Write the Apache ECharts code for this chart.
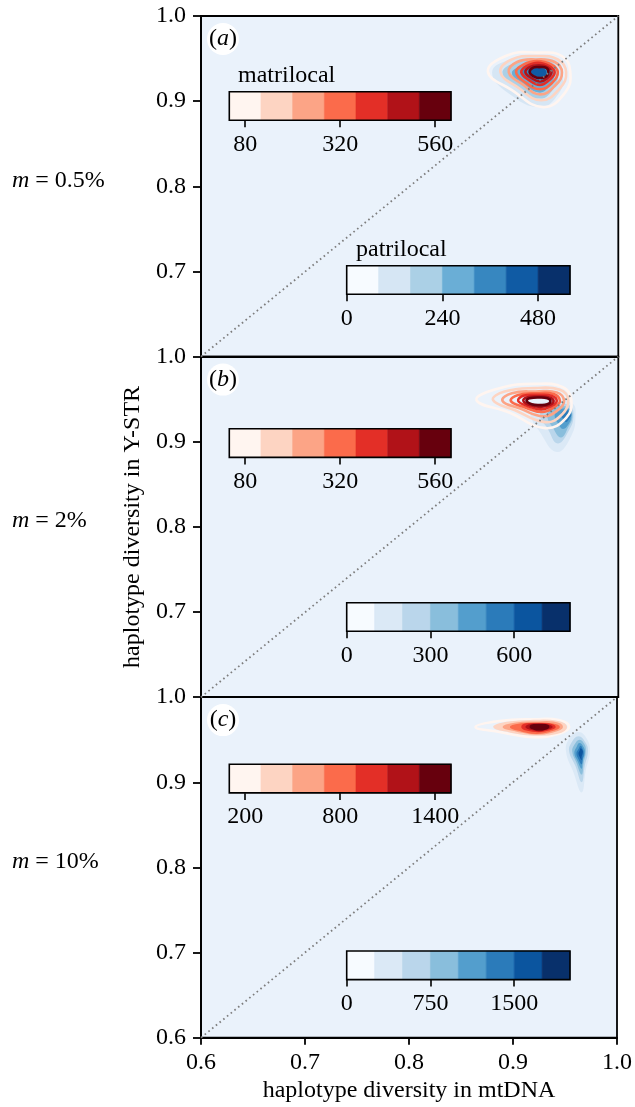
<!DOCTYPE html>
<html><head><meta charset="utf-8">
<script src="https://cdn.jsdelivr.net/npm/echarts@6/dist/echarts.min.js"></script>
<style>html,body{margin:0;padding:0;background:#fff}#c{width:635px;height:1107px}</style>
</head><body><div id="c"></div>
<script>
// ---------- data ----------
const panelLabels = ['a', 'b', 'c'];
const migrationLabels = ['0.5%', '2%', '10%'];
const xTitle = 'haplotype diversity in mtDNA';
const yTitle = 'haplotype diversity in Y-STR';
const diagonal = [[0.6, 0.6], [1.0, 1.0]];

// colorbar levels (matrilocal = contour lines, patrilocal = filled bands)
const redLevelsA = [80, 160, 240, 320, 400, 480, 560];
const redTicksA = [80, 320, 560];
const redLevelsB = [80, 160, 240, 320, 400, 480, 560];
const redTicksB = [80, 320, 560];
const redLevelsC = [200, 400, 600, 800, 1000, 1200, 1400];
const redTicksC = [200, 800, 1400];
const blueEdgesA = [0, 80, 160, 240, 320, 400, 480, 560];
const blueTicksA = [0, 240, 480];
const blueEdgesB = [0, 100, 200, 300, 400, 500, 600, 700, 800];
const blueTicksB = [0, 300, 600];
const blueEdgesC = [0, 250, 500, 750, 1000, 1250, 1500, 1750, 2000];
const blueTicksC = [0, 750, 1500];

// contour outlines in data units [mtDNA diversity, Y-STR diversity], outermost first
const aRed = [
  [[.954,.934],[.946,.953],[.922,.957],[.894,.954],[.875,.935],[.898,.913],[.928,.893],[.949,.910]],
  [[.950,.934],[.942,.949],[.921,.953],[.898,.949],[.887,.934],[.904,.916],[.926,.901],[.944,.915]],
  [[.946,.934],[.939,.946],[.921,.949],[.903,.946],[.895,.934],[.908,.920],[.925,.908],[.940,.919]],
  [[.942,.934],[.936,.943],[.922,.947],[.909,.943],[.902,.934],[.911,.922],[.925,.914],[.937,.922]],
  [[.939,.934],[.934,.941],[.923,.945],[.912,.941],[.907,.934],[.914,.925],[.925,.919],[.934,.925]],
  [[.936,.934],[.932,.940],[.924,.942],[.915,.940],[.911,.934],[.917,.927],[.925,.923],[.932,.927]],
  [[.933,.934],[.931,.939],[.924,.940],[.918,.939],[.915,.934],[.919,.929],[.925,.927],[.931,.929]]
];
const aBlue = [
  [[.947,.930],[.941,.949],[.922,.953],[.896,.949],[.879,.934],[.895,.909],[.925,.893],[.943,.909]],
  [[.942,.933],[.936,.946],[.922,.948],[.901,.945],[.889,.933],[.904,.915],[.925,.903],[.938,.915]],
  [[.939,.934],[.934,.943],[.923,.946],[.908,.942],[.898,.933],[.909,.920],[.925,.910],[.935,.920]],
  [[.935,.934],[.932,.941],[.924,.943],[.913,.941],[.907,.934],[.915,.925],[.925,.920],[.932,.925]],
  [[.931,.934],[.929,.938],[.924,.939],[.918,.938],[.915,.934],[.919,.930],[.925,.928],[.930,.930]]
];
const bRed = [
  [[.955,.949],[.947,.964],[.920,.968],[.887,.963],[.864,.949],[.896,.934],[.930,.916],[.950,.928]],
  [[.952,.949],[.944,.961],[.920,.963],[.891,.959],[.880,.949],[.901,.937],[.930,.923],[.946,.932]],
  [[.948,.948],[.941,.958],[.921,.959],[.898,.957],[.889,.948],[.906,.939],[.928,.930],[.942,.937]],
  [[.944,.948],[.938,.956],[.922,.957],[.904,.955],[.897,.948],[.909,.941],[.927,.935],[.939,.941]],
  [[.941,.948],[.936,.954],[.923,.955],[.909,.954],[.904,.948],[.913,.942],[.926,.938],[.936,.942]],
  [[.938,.948],[.934,.952],[.924,.953],[.912,.952],[.909,.948],[.915,.943],[.925,.941],[.934,.943]],
  [[.935,.948],[.932,.951],[.925,.952],[.915,.951],[.912,.948],[.917,.944],[.925,.943],[.932,.944]]
];
const bBlue = [
  [[.959,.931],[.956,.945],[.939,.947],[.919,.942],[.916,.931],[.924,.913],[.941,.888],[.955,.907]],
  [[.957,.930],[.954,.942],[.942,.944],[.928,.939],[.925,.930],[.932,.916],[.942,.898],[.953,.914]],
  [[.956,.930],[.953,.939],[.945,.942],[.934,.937],[.932,.929],[.937,.917],[.945,.905],[.952,.917]],
  [[.955,.931],[.953,.938],[.948,.939],[.941,.936],[.939,.930],[.942,.922],[.947,.915],[.953,.922]],
  [[.955,.932],[.953,.936],[.950,.937],[.946,.935],[.945,.931],[.947,.927],[.950,.923],[.953,.927]]
];
const cRed = [
  [[.954,.965],[.944,.973],[.920,.974],[.887,.972],[.864,.965],[.887,.959],[.920,.953],[.944,.957]],
  [[.951,.965],[.942,.971],[.920,.972],[.896,.970],[.882,.965],[.896,.960],[.920,.956],[.942,.958]],
  [[.947,.965],[.939,.970],[.922,.970],[.903,.969],[.891,.965],[.903,.961],[.922,.957],[.939,.960]],
  [[.944,.965],[.937,.968],[.923,.969],[.908,.968],[.898,.965],[.908,.961],[.923,.958],[.937,.961]],
  [[.940,.965],[.934,.968],[.924,.968],[.913,.968],[.909,.965],[.913,.962],[.924,.960],[.934,.962]],
  [[.937,.965],[.932,.967],[.925,.968],[.917,.967],[.913,.965],[.917,.963],[.925,.961],[.932,.963]],
  [[.934,.965],[.931,.967],[.925,.967],[.920,.967],[.917,.965],[.920,.963],[.925,.962],[.931,.963]]
];
const cBlue = [
  [[.963,.959],[.971,.951],[.974,.936],[.970,.914],[.966,.888],[.958,.912],[.951,.936],[.954,.951]],
  [[.963,.954],[.970,.946],[.972,.936],[.969,.919],[.966,.900],[.960,.919],[.954,.936],[.956,.946]],
  [[.964,.950],[.969,.944],[.970,.936],[.968,.923],[.966,.909],[.961,.923],[.957,.936],[.959,.944]],
  [[.964,.946],[.968,.941],[.969,.934],[.967,.925],[.966,.916],[.962,.925],[.959,.934],[.961,.941]],
  [[.965,.943],[.967,.939],[.968,.934],[.967,.927],[.966,.921],[.963,.927],[.961,.934],[.963,.939]],
  [[.965,.940],[.967,.937],[.967,.934],[.966,.930],[.966,.926],[.964,.930],[.963,.934],[.964,.937]]
];

// ---------- styling ----------
const FONT = '"Liberation Serif", "DejaVu Serif", serif';
const FS = 24;
const REDS7 = ['#fff5f0','#fdd4c2','#fca486','#fb6b4b','#e32f27','#b11218','#67000d'];
const BLUES7 = ['#f7fbff','#d6e6f4','#abd0e6','#6aaed6','#3787c0','#105ba4','#08306b'];
const BLUES8 = ['#f7fbff','#dbe9f6','#bad6eb','#89bedc','#539ecd','#2b7bba','#0b559f','#08306b'];
const BG = '#eaf2fb';

const PL = 201, PW = 417.3, PH = 340.6;
const panelTops = [16, 356.6, 697.1];
const redBarPos = [[229.3, 91.7], [229.3, 428.8], [229.3, 764.3]];
const blueBarPos = [[346.7, 265.7], [346.7, 602.7], [346.7, 951]];
const RBW = 221.7, BBW = 223.3, BH = 28.6;

const redSets = [
  {levels: redLevelsA, ticks: redTicksA},
  {levels: redLevelsB, ticks: redTicksB},
  {levels: redLevelsC, ticks: redTicksC}
];
const blueSets = [
  {edges: blueEdgesA, ticks: blueTicksA, colors: BLUES7},
  {edges: blueEdgesB, ticks: blueTicksB, colors: BLUES8},
  {edges: blueEdgesC, ticks: blueTicksC, colors: BLUES8}
];
const redContours = [aRed, bRed, cRed];
const blueContours = [aBlue, bBlue, cBlue];

const grid = [], xAxis = [], yAxis = [], series = [];
const txt = {fontFamily: FONT, fontSize: FS, color: '#000'};

for (let i = 0; i < 3; i++) {
  grid.push({left: PL, top: panelTops[i], width: PW, height: PH, show: true,
    backgroundColor: BG, borderColor: '#000', borderWidth: 1.8, containLabel: false});
  xAxis.push({gridIndex: i, type: 'value', min: 0.6, max: 1.0, interval: 0.1,
    axisLine: {show: true, lineStyle: {color: '#000', width: 1.8}},
    axisTick: {show: i === 2, length: 7, lineStyle: {color: '#000', width: 1.8}},
    axisLabel: Object.assign({show: i === 2, margin: 13, formatter: v => v.toFixed(1)}, txt),
    splitLine: {show: false},
    name: i === 2 ? xTitle : '', nameLocation: 'middle', nameGap: 41,
    nameTextStyle: {fontFamily: FONT, fontSize: FS, color: '#000'}});
  yAxis.push({gridIndex: i, type: 'value', min: 0.6, max: 1.0, interval: 0.1,
    axisLine: {show: true, lineStyle: {color: '#000', width: 1.8}},
    axisTick: {show: true, length: 8, lineStyle: {color: '#000', width: 1.8}},
    axisLabel: Object.assign({show: true, margin: 15, showMinLabel: i === 2, formatter: v => v.toFixed(1)}, txt),
    splitLine: {show: false},
    name: i === 1 ? yTitle : '', nameLocation: 'middle', nameGap: 56, nameRotate: 90,
    nameTextStyle: {fontFamily: FONT, fontSize: FS, color: '#000'}});
}

function contourSeries(gi, contours, colors, mode, z) {
  return {
    type: 'custom', coordinateSystem: 'cartesian2d', xAxisIndex: gi, yAxisIndex: gi,
    silent: true, animation: false, clip: true, z: z,
    data: contours.map(c => c[0]),
    renderItem: function (params, api) {
      const pts = contours[params.dataIndex].map(p => api.coord(p));
      const col = colors[params.dataIndex];
      let style;
      if (mode === 'fill') style = {fill: col, stroke: null};
      else if (mode === 'line') style = {fill: null, stroke: col, lineWidth: 2.6};
      else style = {fill: col, stroke: col, lineWidth: 2.2};
      return {type: 'polygon', shape: {points: pts, smooth: 0.45}, style: style};
    }
  };
}

for (let i = 0; i < 3; i++) {
  const bcols = blueSets[i].colors.slice(1);
  series.push(contourSeries(i, blueContours[i], bcols, 'fill', 2));
  if (i < 2) {
    series.push(contourSeries(i, redContours[i], REDS7, 'line', 3));
  } else {
    series.push(contourSeries(i, redContours[i].slice(0, 1), REDS7, 'line', 3));
    series.push(contourSeries(i, redContours[i].slice(1), REDS7.slice(1), 'both', 3));
  }
  series.push({type: 'line', xAxisIndex: i, yAxisIndex: i, data: diagonal, symbol: 'none',
    silent: true, animation: false, z: 6,
    lineStyle: {color: '#7d7d7d', width: 1.8, type: [1.6, 3.2]}});
}

function barSeries(gi, segs, colors) {
  return {
    type: 'custom', coordinateSystem: 'cartesian2d', xAxisIndex: gi, yAxisIndex: gi,
    silent: true, animation: false, clip: false, z: 2,
    encode: {x: [0, 1]},
    data: segs,
    renderItem: function (params, api) {
      const a = api.coord([api.value(0), 0]);
      const b = api.coord([api.value(1), 1]);
      const col = colors[params.dataIndex];
      return {type: 'rect', shape: {x: a[0], y: b[1], width: b[0] - a[0], height: a[1] - b[1]},
        style: {fill: col, stroke: col, lineWidth: 0.6}};
    }
  };
}

function addBar(pos, w, min, max, ticks, segs, colors) {
  const gi = grid.length;
  grid.push({left: pos[0], top: pos[1], width: w, height: BH, show: true, z: 5,
    backgroundColor: 'transparent', borderColor: '#000', borderWidth: 1.6});
  xAxis.push({gridIndex: gi, type: 'value', min: min, max: max,
    axisLine: {show: false}, splitLine: {show: false},
    axisTick: {show: true, customValues: ticks, length: 7, lineStyle: {color: '#000', width: 1.6}},
    axisLabel: Object.assign({show: true, customValues: ticks, margin: 12, formatter: v => String(v)}, txt)});
  yAxis.push({gridIndex: gi, type: 'value', min: 0, max: 1, show: false});
  series.push(barSeries(gi, segs, colors));
}

for (let i = 0; i < 3; i++) {
  const lv = redSets[i].levels, step = lv[1] - lv[0];
  addBar(redBarPos[i], RBW, lv[0] - step / 2, lv[lv.length - 1] + step / 2, redSets[i].ticks,
    lv.map(l => [l - step / 2, l + step / 2]), REDS7);
  const e = blueSets[i].edges;
  addBar(blueBarPos[i], BBW, e[0], e[e.length - 1], blueSets[i].ticks,
    e.slice(0, -1).map((v, k) => [v, e[k + 1]]), blueSets[i].colors);
}

const graphic = [];
const labelCircleY = [39, 379.6, 720.1];
const migY = [180.5, 521.1, 861.6];
for (let i = 0; i < 3; i++) {
  graphic.push({type: 'circle', shape: {cx: 223, cy: labelCircleY[i], r: 16}, style: {fill: '#fff'}, z: 10});
  graphic.push({type: 'text', x: 223, y: labelCircleY[i], z: 11,
    style: {text: '({i|' + panelLabels[i] + '})', align: 'center', verticalAlign: 'middle',
      fontFamily: FONT, fontSize: FS, fill: '#000',
      rich: {i: {fontFamily: FONT, fontSize: FS, fontStyle: 'italic', fill: '#000'}}}});
  graphic.push({type: 'text', x: 12, y: migY[i], z: 11,
    style: {text: '{i|m} = ' + migrationLabels[i], align: 'left', verticalAlign: 'middle',
      fontFamily: FONT, fontSize: FS, fill: '#000',
      rich: {i: {fontFamily: FONT, fontSize: FS, fontStyle: 'italic', fill: '#000'}}}});
}
graphic.push({type: 'text', x: 238, y: 75.5, z: 11,
  style: {text: 'matrilocal', align: 'left', verticalAlign: 'middle', fontFamily: FONT, fontSize: FS, fill: '#000'}});
graphic.push({type: 'text', x: 356, y: 249.5, z: 11,
  style: {text: 'patrilocal', align: 'left', verticalAlign: 'middle', fontFamily: FONT, fontSize: FS, fill: '#000'}});

const chart = echarts.init(document.getElementById('c'), null, {renderer: 'canvas'});
chart.setOption({animation: false, backgroundColor: '#fff', grid, xAxis, yAxis, series, graphic});
</script></body></html>
